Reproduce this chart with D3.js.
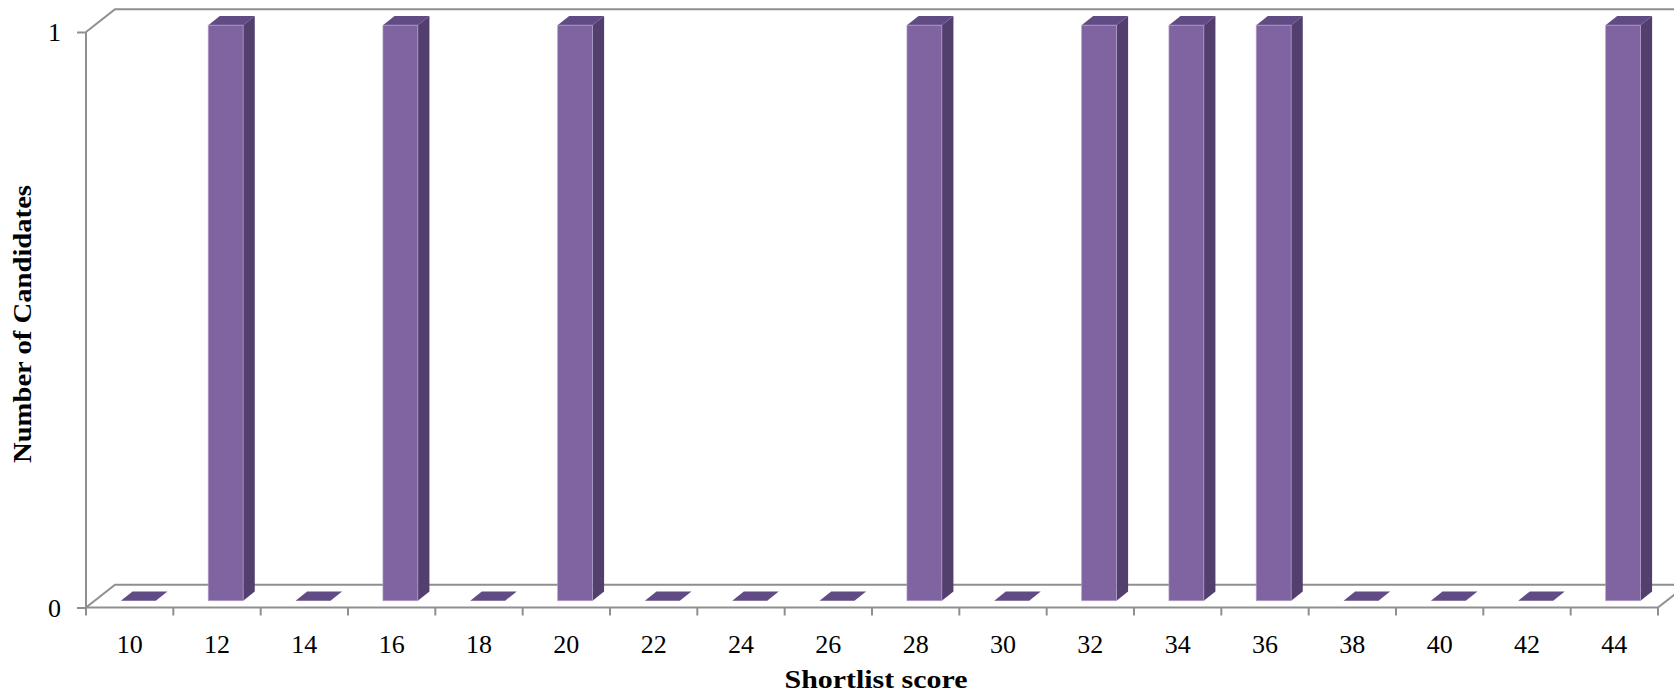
<!DOCTYPE html>
<html>
<head>
<meta charset="utf-8">
<script src="https://cdn.jsdelivr.net/npm/d3@7"></script>
<style>
  html, body { margin: 0; padding: 0; background: #ffffff; }
  svg { display: block; }
</style>
</head>
<body>
<svg id="chart" width="1674" height="693"></svg>
<script>
// ---- data ----
const categories = ["10","12","14","16","18","20","22","24","26","28","30","32","34","36","38","40","42","44"];
const counts     = [0, 1, 0, 1, 0, 1, 0, 0, 0, 1, 0, 1, 1, 1, 0, 0, 0, 1];
const yTicks     = [0, 1];
const xTitle = "Shortlist score";
const yTitle = "Number of Candidates";

// ---- layout ----
const W = 1674, H = 693;
const plotLeft = 86, plotRight = 1658;
const floorY = 607.5, topY = 32;
const depthDX = 29, depthDY = -22.8;
const barZ0 = 0.3, barZ1 = 0.7;
const gridColor = "#8f8f8f";

const svg = d3.select("#chart");

const x = d3.scaleBand().domain(categories).range([plotLeft, plotRight]).paddingInner(0).paddingOuter(0);
const y = d3.scaleLinear().domain([0, 1]).range([floorY, topY]);

function P(px, py, z) { return [px + z * depthDX, py + z * depthDY]; }
function poly(pts) { return "M" + pts.map(p => p[0].toFixed(2) + "," + p[1].toFixed(2)).join("L") + "Z"; }

const walls = svg.append("g").attr("fill", "none").attr("stroke", gridColor).attr("stroke-width", 2);

// back wall gridlines at each y tick (extend to right edge) + side wall diagonals
yTicks.forEach(t => {
  const a = P(plotLeft, y(t), 0), b = P(plotLeft, y(t), 1), c = P(plotRight, y(t), 1);
  walls.append("path").attr("d", `M${a[0]},${a[1]}L${b[0]},${b[1]}L${c[0]},${c[1]}`);
});
// left front vertical
walls.append("line").attr("x1", plotLeft).attr("x2", plotLeft).attr("y1", y(1)).attr("y2", y(0));
// floor front edge and right floor diagonal
{
  const a = P(plotRight, y(0), 0), b = P(plotRight, y(0), 1);
  walls.append("line").attr("x1", plotLeft).attr("x2", plotRight).attr("y1", y(0)).attr("y2", y(0));
  walls.append("line").attr("x1", a[0]).attr("y1", a[1]).attr("x2", b[0]).attr("y2", b[1]);
}

// y axis (ticks + labels) using d3 axis
const yAxis = d3.axisLeft(y).tickValues(yTicks).tickFormat(d3.format("d")).tickSize(9).tickPadding(16);
const gy = svg.append("g").attr("transform", `translate(${plotLeft},0)`).call(yAxis);
gy.select(".domain").remove();
gy.selectAll(".tick line").attr("stroke", gridColor).attr("stroke-width", 2);
gy.selectAll(".tick text")
  .attr("font-family", "'Liberation Serif', 'Times New Roman', serif")
  .attr("font-size", 26).attr("fill", "#000").attr("dy", "0.34em");

// x axis: labels centered in bands, ticks at band boundaries
const xAxis = d3.axisBottom(x).tickSize(0).tickPadding(27);
const gx = svg.append("g").attr("transform", `translate(0,${floorY})`).call(xAxis);
gx.select(".domain").remove();
gx.selectAll(".tick text")
  .attr("font-family", "'Liberation Serif', 'Times New Roman', serif")
  .attr("font-size", 26).attr("fill", "#000");
const boundaries = categories.map(c => x(c)).concat([x(categories[categories.length - 1]) + x.bandwidth()]);
svg.append("g").selectAll("line").data(boundaries).join("line")
  .attr("x1", d => d).attr("x2", d => d)
  .attr("y1", floorY).attr("y2", floorY + 8)
  .attr("stroke", gridColor).attr("stroke-width", 2);

// bars (3D)
const barW = x.bandwidth() / 2.5;
const bars = svg.append("g");
categories.forEach((c, i) => {
  const v = counts[i];
  const xl = x(c) + (x.bandwidth() - barW) / 2, xr = xl + barW;
  const yb = y(0), yt = y(v);
  const g = bars.append("g");
  // top face
  g.append("path").attr("d", poly([P(xl, yt, barZ0), P(xr, yt, barZ0), P(xr, yt, barZ1), P(xl, yt, barZ1)]))
    .attr("fill", "#604b84");
  if (v > 0) {
    // side face
    g.append("path").attr("d", poly([P(xr, yb, barZ0), P(xr, yb, barZ1), P(xr, yt, barZ1), P(xr, yt, barZ0)]))
      .attr("fill", "#523f6e");
    // front face
    g.append("path").attr("d", poly([P(xl, yb, barZ0), P(xr, yb, barZ0), P(xr, yt, barZ0), P(xl, yt, barZ0)]))
      .attr("fill", "#7f64a1").attr("stroke", "#b7a6cc").attr("stroke-width", 0.6);
  }
});

// axis titles
svg.append("text")
  .attr("x", 876).attr("y", 688)
  .attr("text-anchor", "middle")
  .attr("font-family", "'Liberation Serif', 'Times New Roman', serif")
  .attr("font-weight", "bold").attr("font-size", 26)
  .attr("textLength", 183).attr("lengthAdjust", "spacingAndGlyphs")
  .text(xTitle);

svg.append("text")
  .attr("transform", "translate(31,324) rotate(-90)")
  .attr("text-anchor", "middle")
  .attr("font-family", "'Liberation Serif', 'Times New Roman', serif")
  .attr("font-weight", "bold").attr("font-size", 26)
  .attr("textLength", 278).attr("lengthAdjust", "spacingAndGlyphs")
  .text(yTitle);
</script>
</body>
</html>
